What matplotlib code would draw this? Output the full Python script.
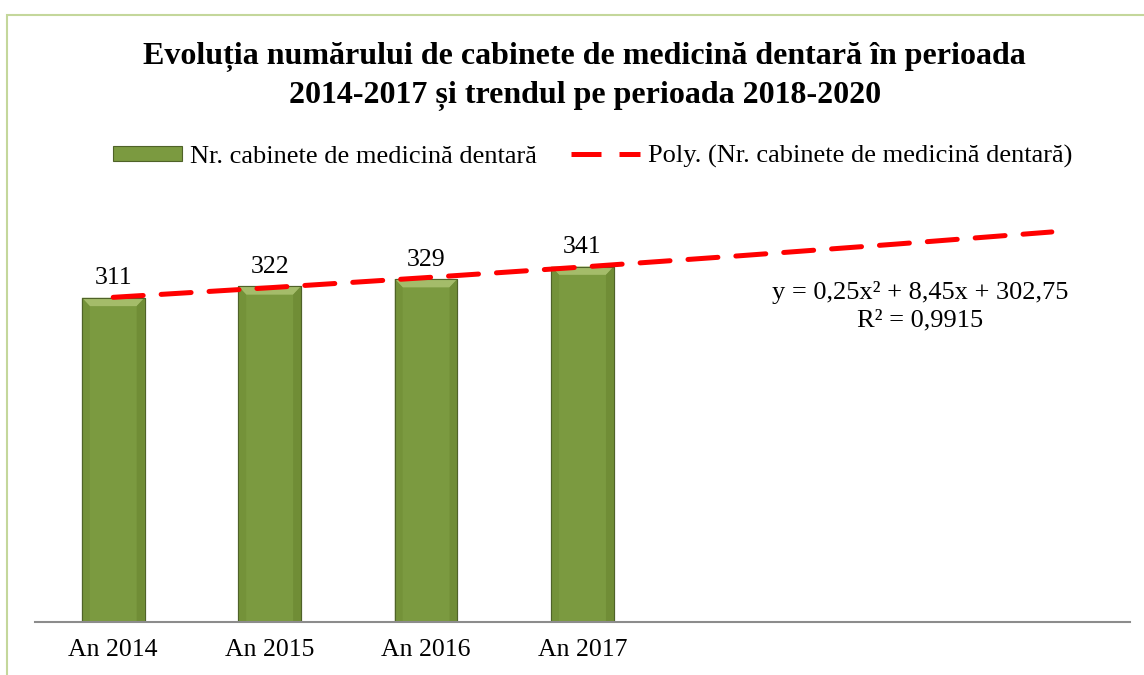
import numpy as np
import matplotlib.pyplot as plt
from matplotlib.lines import Line2D
from matplotlib.patches import Rectangle, Patch

# date
categorii = ['An 2014', 'An 2015', 'An 2016', 'An 2017', '', '', '']
ani_date = ['An 2014', 'An 2015', 'An 2016', 'An 2017']
nr_cabinete = [311, 322, 329, 341]
ecuatie = 'y = 0,25x² + 8,45x + 302,75\nR² = 0,9915'

plt.rcParams['font.family'] = ['Liberation Serif', 'DejaVu Serif']

fig = plt.figure(figsize=(11.44, 6.75), dpi=100)
ax = fig.add_axes([0.0306, 0.0785, 0.9572, 0.6178])

x = np.arange(len(ani_date))
bare = ax.bar(x, nr_cabinete, width=0.4, color='#7B9A40', edgecolor='#4F6228',
              linewidth=0.8, zorder=2)
ax.bar_label(bare, labels=[str(v) for v in nr_cabinete], padding=6, fontsize=18.5)

# efect de tesitura pe bare (marginea de sus mai deschisa, laturile mai inchise)
for b in bare:
    x0, w, h = b.get_x(), b.get_width(), b.get_height()
    dx, dy = 0.05, 8
    ax.fill([x0, x0 + w, x0 + w - dx, x0 + dx], [h, h, h - dy, h - dy],
            color='#A4BC6A', lw=0, zorder=2.1)
    ax.fill([x0, x0 + dx, x0 + dx, x0], [h, h - dy, 0, 0],
            color='#749239', lw=0, zorder=2.1)
    ax.fill([x0 + w, x0 + w - dx, x0 + w - dx, x0 + w], [h, h - dy, 0, 0],
            color='#708D36', lw=0, zorder=2.1)
    ax.add_patch(Rectangle((x0, 0), w, h, fill=False, edgecolor='#4F6228',
                           lw=0.8, zorder=2.2))

# trend polinomial (grad 2) calculat din date, extins pana in 2020
coef = np.polyfit(x + 1, nr_cabinete, 2)
xt = np.arange(len(categorii))
ax.plot(xt, np.polyval(coef, xt + 1), color='#FF0000', lw=3.6,
        linestyle=(0, (6, 3.6)), dash_capstyle='round', zorder=3)

ax.text(5.16, 303, ecuatie, ha='center', va='center', fontsize=19,
        linespacing=1.3)

ax.set_xlim(-0.5, 6.5)
ax.set_ylim(0, 400)
ax.set_xticks(xt)
ax.set_xticklabels(categorii, fontsize=18.5)
ax.tick_params(axis='x', length=0, pad=12)
ax.set_yticks([])
for s in ['top', 'right', 'left']:
    ax.spines[s].set_visible(False)
ax.spines['bottom'].set_color('#8C8C8C')
ax.spines['bottom'].set_linewidth(1.5)

fig.text(0.511, 0.887,
         'Evoluția numărului de cabinete de medicină dentară în perioada\n'
         '2014-2017 și trendul pe perioada 2018-2020',
         ha='center', va='center', fontsize=23, fontweight='bold',
         linespacing=1.4)

handles = [Patch(facecolor='#7B9A40', edgecolor='#4F6228', lw=0.8),
           Line2D([], [], color='#FF0000', lw=3.6, linestyle=(0, (6, 3.6)))]
fig.legend(handles, ['Nr. cabinete de medicină dentară',
                     'Poly. (Nr. cabinete de medicină dentară)'],
           loc='center', bbox_to_anchor=(0.518, 0.768), ncol=2, frameon=False,
           fontsize=19, handlelength=2.6, handleheight=0.5,
           columnspacing=1.3, handletextpad=0.3)

# chenar
fig.patches.append(Rectangle((7 / 1144, -0.05), 1.2, 1 - 15 / 675 + 0.05,
                             transform=fig.transFigure, fill=False,
                             edgecolor='#C4D79B', lw=1.5))

fig.savefig('out.png', dpi=100)
